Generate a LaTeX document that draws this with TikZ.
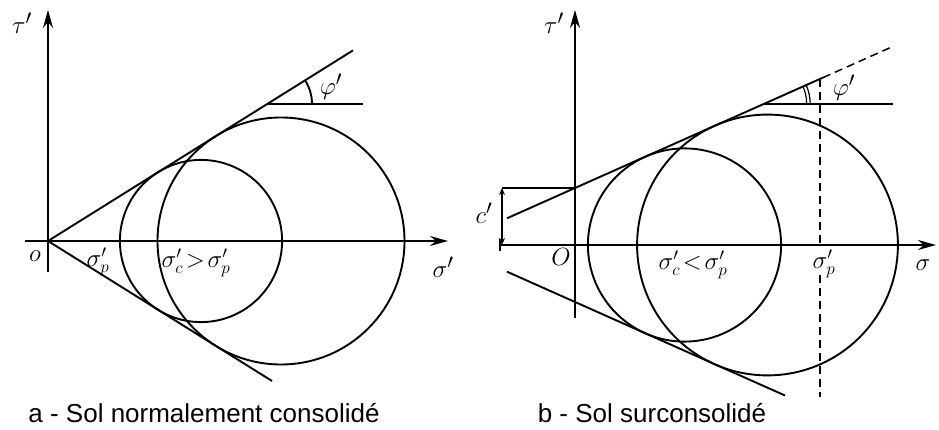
\documentclass[tikz,border=0pt]{standalone}
\usepackage{fontspec}
\newfontfamily\capfont{Liberation Sans}
\usetikzlibrary{arrows.meta}
\tikzset{
  lbl/.style={inner sep=0pt,font=\fontsize{28}{30}\selectfont},
  sublbl/.style={inner sep=0pt,font=\fontsize{24}{26}\selectfont},
  capt/.style={inner sep=0pt,font=\capfont\fontsize{26}{28}\selectfont},
  axis/.style={line width=2pt,-{Stealth[length=18pt,width=10pt]}},
  trace/.style={line width=1.9pt},
  dashline/.style={line width=1.5pt,dash pattern=on 8pt off 5pt}
}
\begin{document}
\begin{tikzpicture}[x=1pt,y=1pt]
\path[use as bounding box] (0,0) rectangle (939,430);
% a - normally consolidated
\coordinate (oa) at (48,189);
\coordinate (axl) at (25,189);
\coordinate (axr) at (448,189);
\coordinate (ayb) at (48,158);
\coordinate (ayt) at (48,420);
\coordinate (upa) at (353,379.6);
\coordinate (loa) at (272,49);
\coordinate (hla) at (268,326);
\coordinate (hra) at (363,326);
\draw[axis] (axl) -- (axr);
\draw[axis] (ayb) -- (ayt);
\draw[trace] (oa) -- (upa);
\draw[trace] (oa) -- (loa);
\draw[trace] (hla) -- (hra);
\draw[trace] (hla) ++(44,0) arc (0:32:44);
\draw[trace] (201,189) circle (81.1);
\draw[trace] (281,189) circle (123.5);
\node[lbl] (taua) at (22,407) {$\tau'$};
\node[lbl] (siga) at (443,163) {$\sigma'$};
\node[lbl] (orga) at (35,174) {$o$};
\node[lbl] (phia) at (331,343) {$\varphi'$};
\node[sublbl] (spa) at (98,168) {$\sigma_p'$};
\node[sublbl] (sca) at (196,167) {$\sigma_c'\!>\!\sigma_p'$};
\node[capt] (capa) at (204,17) {a - Sol normalement consolidé};
% b - overconsolidated
\coordinate (ob) at (575,185);
\coordinate (bxl) at (500,185);
\coordinate (bxr) at (936,185);
\coordinate (byb) at (575,112);
\coordinate (byt) at (575,420);
\coordinate (cb) at (575,242);
\coordinate (upl) at (507,211.7);
\coordinate (ups) at (823,352.4);
\coordinate (upe) at (893,383.6);
\coordinate (lol) at (507,158.3);
\coordinate (loe) at (785,34.5);
\coordinate (hlb) at (763.7,326);
\coordinate (hrb) at (893,326);
\coordinate (dtop) at (820,351);
\coordinate (dmid) at (820,185);
\coordinate (dlow) at (820,155);
\coordinate (dbot) at (820,33);
\coordinate (ctop) at (502,242);
\coordinate (cbot) at (502,185);
\draw[axis] (bxl) -- (bxr);
\draw[axis] (byb) -- (byt);
\draw[line width=1.4pt] (500,179) -- (500,191);
\draw[trace] (upl) -- (cb) -- (ups);
\draw[dashline] (ups) -- (upe);
\draw[trace] (lol) -- (loe);
\draw[trace] (hlb) -- (hrb);
\draw[line width=1.2pt] (hlb) ++(43,0) arc (0:24:43);
\draw[line width=1.2pt] (hlb) ++(46.5,0) arc (0:24:46.5);
\draw[dashline] (dtop) -- (dmid);
\draw[dashline] (dlow) -- (dbot);
\draw[line width=1.3pt] (ctop) -- (cb);
\draw[line width=1.3pt,{Stealth[length=7pt,width=6pt]}-{Stealth[length=7pt,width=6pt]}] (ctop) -- (cbot);
\draw[trace] (684.5,185) circle (96.6);
\draw[trace] (767.5,185) circle (130.4);
\node[lbl] (taub) at (554,407) {$\tau'$};
\node[lbl] (sigb) at (923,165) {$\sigma$};
\node[lbl] (orgb) at (561,173) {$O$};
\node[lbl] (cpr) at (484,217) {$c'$};
\node[lbl] (phib) at (844,342) {$\varphi'$};
\node[sublbl] (spb) at (824,166) {$\sigma_p'$};
\node[sublbl] (scb) at (693,165) {$\sigma_c'\!<\!\sigma_p'$};
\node[capt] (capb) at (652,17) {b - Sol surconsolidé};
\end{tikzpicture}
\end{document}
